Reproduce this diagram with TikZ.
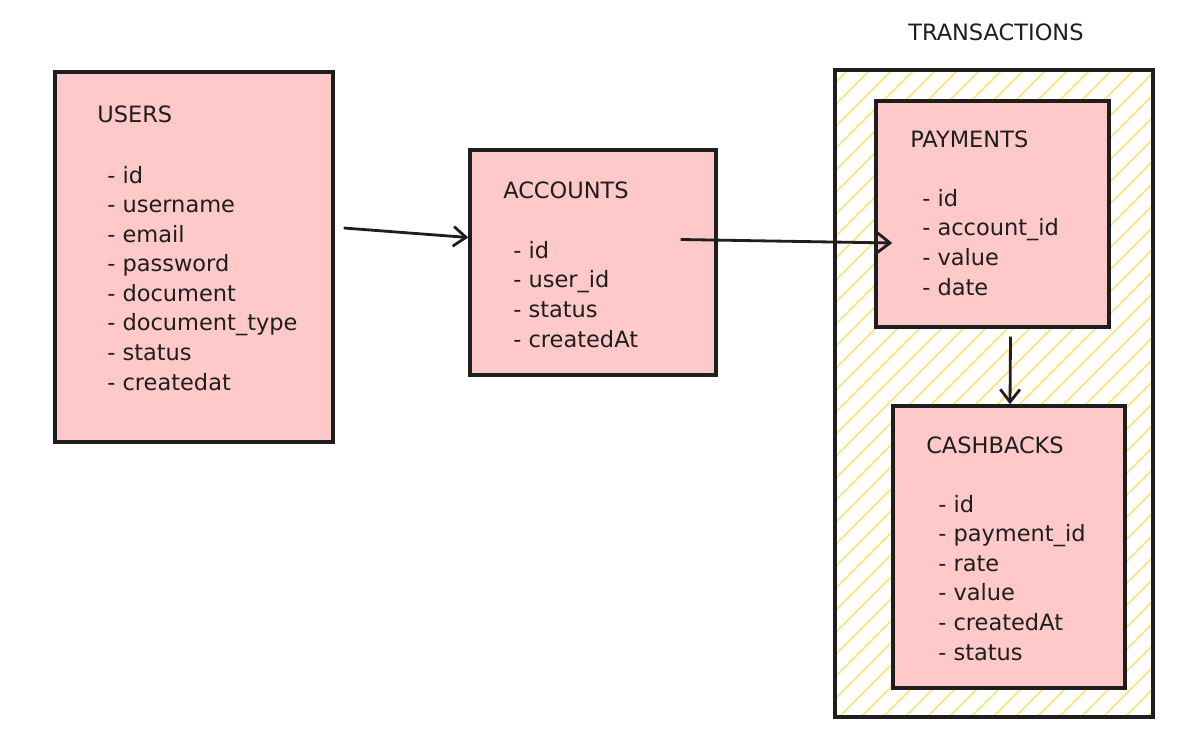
\documentclass[tikz,border=0pt]{standalone}
\usepackage{fontspec}
\setmainfont{DejaVu Sans}
\usetikzlibrary{arrows.meta}
\definecolor{ink}{HTML}{1E1E1E}
\definecolor{rose}{HTML}{FFC9C9}
\definecolor{straw}{HTML}{FFE589}
\begin{document}
\begin{tikzpicture}[x = 0.025cm, y = -0.025cm]
\tikzstyle{Table}=[shape = rectangle, draw = ink, fill = rose,
                   line width = 2.4pt, inner sep = 0pt]
\tikzstyle{Label}=[anchor = base west, align = left, inner sep = 0pt,
                   text = ink, font = \fontsize{16}{21}\selectfont]
\tikzstyle{Link}=[draw = ink, line width = 2pt,
                  -{Straight Barb[length = 9pt, width = 14pt]}]

\useasboundingbox (0,0) rectangle (1198,742);

\begin{scope}
\clip (835,70) rectangle (1153,717);
\foreach \k in {0,...,47}
  \draw[straw, line width = 1.3pt] (135+22*\k,717) -- ++(700,-700);
\end{scope}
\node[draw = ink, line width = 2.4pt, minimum width = 7.95cm, minimum height = 16.175cm] (transactions) at (994,393.5) {};
\node[Label] (transactions-title) at (908,41) {TRANSACTIONS};

\node[Table, minimum width = 6.95cm, minimum height = 9.25cm] (users) at (194,257) {};
\node[Table, minimum width = 6.15cm, minimum height = 5.625cm] (accounts) at (593,262.5) {};
\node[Table, minimum width = 5.825cm, minimum height = 5.65cm] (payments) at (992.5,214) {};
\node[Table, minimum width = 5.8cm, minimum height = 7.05cm] (cashbacks) at (1009,547) {};

\node[Label] (users-title) at (97,123) {USERS};
\node[Label] (users-fields) at (107,390) {- id\\- username\\- email\\- password\\- document\\- document\_type\\- status\\- createdat};

\node[Label] (accounts-title) at (503,198) {ACCOUNTS};
\node[Label] (accounts-fields) at (513,347) {- id\\- user\_id\\- status\\- createdAt};

\node[Label] (payments-title) at (910,147) {PAYMENTS};
\node[Label] (payments-fields) at (922,295) {- id\\- account\_id\\- value\\- date};

\node[Label] (cashbacks-title) at (926,453) {CASHBACKS};
\node[Label] (cashbacks-fields) at (938,660) {- id\\- payment\_id\\- rate\\- value\\- createdAt\\- status};

\draw[Link] ([shift = {(9,-29)}]users.east) -- ([shift = {(0,-25)}]accounts.west);
\draw[Link] ([shift = {(-37,-23)}]accounts.east) -- ([shift = {(18,29)}]payments.west);
\draw[Link] ([shift = {(18,8)}]payments.south) -- ([shift = {(1,0)}]cashbacks.north);
\end{tikzpicture}
\end{document}
